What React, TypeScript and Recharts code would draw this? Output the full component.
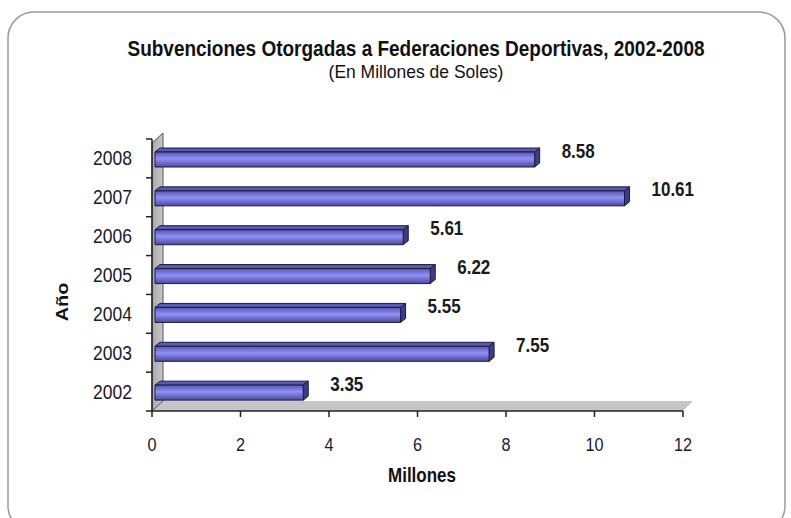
import React from "react";
import { BarChart, Bar, XAxis, YAxis, LabelList } from "recharts";

const years = ["2002", "2003", "2004", "2005", "2006", "2007", "2008"];
const amounts = [3.35, 7.55, 5.55, 6.22, 5.61, 10.61, 8.58];
const xTicks = [0, 2, 4, 6, 8, 10, 12];

const data = years.map((year, i) => ({ year, value: amounts[i] }));

const W = 791;
const H = 518;
const xAxisHeight = 30;
const yAxisWidth = 62;
const margin = { top: 139, right: 108, bottom: 77, left: 90 };
const plotLeft = margin.left + yAxisWidth;
const plotRight = W - margin.right;
const plotTop = margin.top;
const plotBottom = H - margin.bottom - xAxisHeight;
const band = (plotBottom - plotTop) / years.length;

const font = '"Liberation Sans", Arial, sans-serif';
const stretch = 1.17; // the original picture is a bit taller than wide

function Bar3D(props: any) {
  const { x, y, width, height } = props;
  if (width == null || width <= 0) return null;
  const d = 5;
  const e = 4;
  const x0 = x + 3;
  const y0 = y + 1;
  const w = width;
  const h = height;
  return (
    <g stroke="#1c1c3c" strokeWidth={1} strokeLinejoin="round">
      <polygon
        points={`${x0},${y0} ${x0 + d},${y0 - e} ${x0 + w + d},${y0 - e} ${x0 + w},${y0}`}
        fill="#5a5ab4"
      />
      <polygon
        points={`${x0 + w},${y0} ${x0 + w + d},${y0 - e} ${x0 + w + d},${y0 + h - e} ${x0 + w},${y0 + h}`}
        fill="#3c3c8c"
      />
      <rect x={x0} y={y0} width={w} height={h} fill="url(#barGrad)" />
    </g>
  );
}

function ValueLabel(props: any) {
  const { x, y, width, height, value } = props;
  return (
    <text
      transform={`translate(${x + width + 30},${y + height / 2 - 1}) scale(1,${stretch})`}
      fontFamily={font}
      fontSize={17}
      fontWeight="bold"
      fill="#1a1a1a"
    >
      {Number(value).toFixed(2)}
    </text>
  );
}

function YTick(props: any) {
  const { x, y, payload, index } = props;
  const ax = x + 12;
  return (
    <g>
      <text
        transform={`translate(${x - 8},${y + 7}) scale(1,${stretch})`}
        textAnchor="end"
        fontFamily={font}
        fontSize={17.5}
        fill="#1a1a2a"
      >
        {payload.value}
      </text>
      <line x1={ax - 6} x2={ax} y1={y - band / 2} y2={y - band / 2} stroke="#222" strokeWidth={1.5} />
      {index === 0 && (
        <line x1={ax - 6} x2={ax} y1={y + band / 2} y2={y + band / 2} stroke="#222" strokeWidth={1.5} />
      )}
    </g>
  );
}

function XTick(props: any) {
  const { x, y, payload } = props;
  return (
    <text
      transform={`translate(${x},${y + 34}) scale(1,${stretch})`}
      textAnchor="middle"
      fontFamily={font}
      fontSize={16.2}
      fill="#1a1a2a"
    >
      {payload.value}
    </text>
  );
}

export default function App() {
  return (
    <div style={{ position: "absolute", left: 0, top: 0, width: W, height: H, background: "#fff", overflow: "hidden" }}>
      <svg width={W} height={H} style={{ position: "absolute", left: 0, top: 0 }}>
        <defs>
          <linearGradient id="wallGrad" x1="0" y1="0" x2="1" y2="0">
            <stop offset="0%" stopColor="#a8a8a8" />
            <stop offset="100%" stopColor="#c8c8c8" />
          </linearGradient>
        </defs>
        <rect x={8} y={12} width={777} height={520} rx={26} ry={26} fill="none" stroke="#9a9a9a" strokeWidth={1.5} />
        <polygon
          points={`${plotLeft},${plotBottom} ${plotRight},${plotBottom} ${plotRight + 10},${plotBottom - 10} ${plotLeft + 11},${plotBottom - 10}`}
          fill="#c6c6c6"
        />
        <polygon
          points={`${plotLeft},${plotTop + 4} ${plotLeft + 11},${plotTop - 6} ${plotLeft + 11},${plotBottom - 10} ${plotLeft},${plotBottom}`}
          fill="url(#wallGrad)"
          stroke="#555"
          strokeWidth={1}
        />
        <text
          transform={`translate(416,56) scale(1,${stretch})`}
          textAnchor="middle"
          fontFamily={font}
          fontSize={19}
          fontWeight="bold"
          fill="#111"
        >
          Subvenciones Otorgadas a Federaciones Deportivas, 2002-2008
        </text>
        <text
          transform={`translate(416,78) scale(1,1.1)`}
          textAnchor="middle"
          fontFamily={font}
          fontSize={17.5}
          fill="#111"
        >
          (En Millones de Soles)
        </text>
        <text
          transform={`translate(422,482) scale(1,${stretch})`}
          textAnchor="middle"
          fontFamily={font}
          fontSize={17}
          fontWeight="bold"
          fill="#111"
        >
          Millones
        </text>
        <text
          transform={`translate(68,302) scale(1,${stretch}) rotate(-90)`}
          textAnchor="middle"
          fontFamily={font}
          fontSize={17}
          fontWeight="bold"
          fill="#111"
        >
          Año
        </text>
      </svg>

      <BarChart
        width={W}
        height={H}
        data={data}
        layout="vertical"
        margin={margin}
        style={{ position: "absolute", left: 0, top: 0 }}
      >
        <defs>
          <linearGradient id="barGrad" x1="0" y1="0" x2="0" y2="1">
            <stop offset="0%" stopColor="#5656b0" />
            <stop offset="45%" stopColor="#9090f8" />
            <stop offset="100%" stopColor="#4a4aa0" />
          </linearGradient>
        </defs>
        <XAxis
          type="number"
          domain={[0, 12]}
          ticks={xTicks}
          height={xAxisHeight}
          axisLine={{ stroke: "#222", strokeWidth: 1.5 }}
          tickLine={{ stroke: "#222", strokeWidth: 1.5 }}
          tickSize={6}
          tickMargin={0}
          tick={<XTick />}
        />
        <YAxis
          type="category"
          dataKey="year"
          reversed
          width={yAxisWidth}
          axisLine={{ stroke: "#222", strokeWidth: 1.5 }}
          tickLine={false}
          tickSize={6}
          tickMargin={6}
          tick={<YTick />}
        />
        <Bar dataKey="value" barSize={15} shape={<Bar3D />} isAnimationActive={false}>
          <LabelList dataKey="value" content={<ValueLabel />} />
        </Bar>
      </BarChart>
    </div>
  );
}
